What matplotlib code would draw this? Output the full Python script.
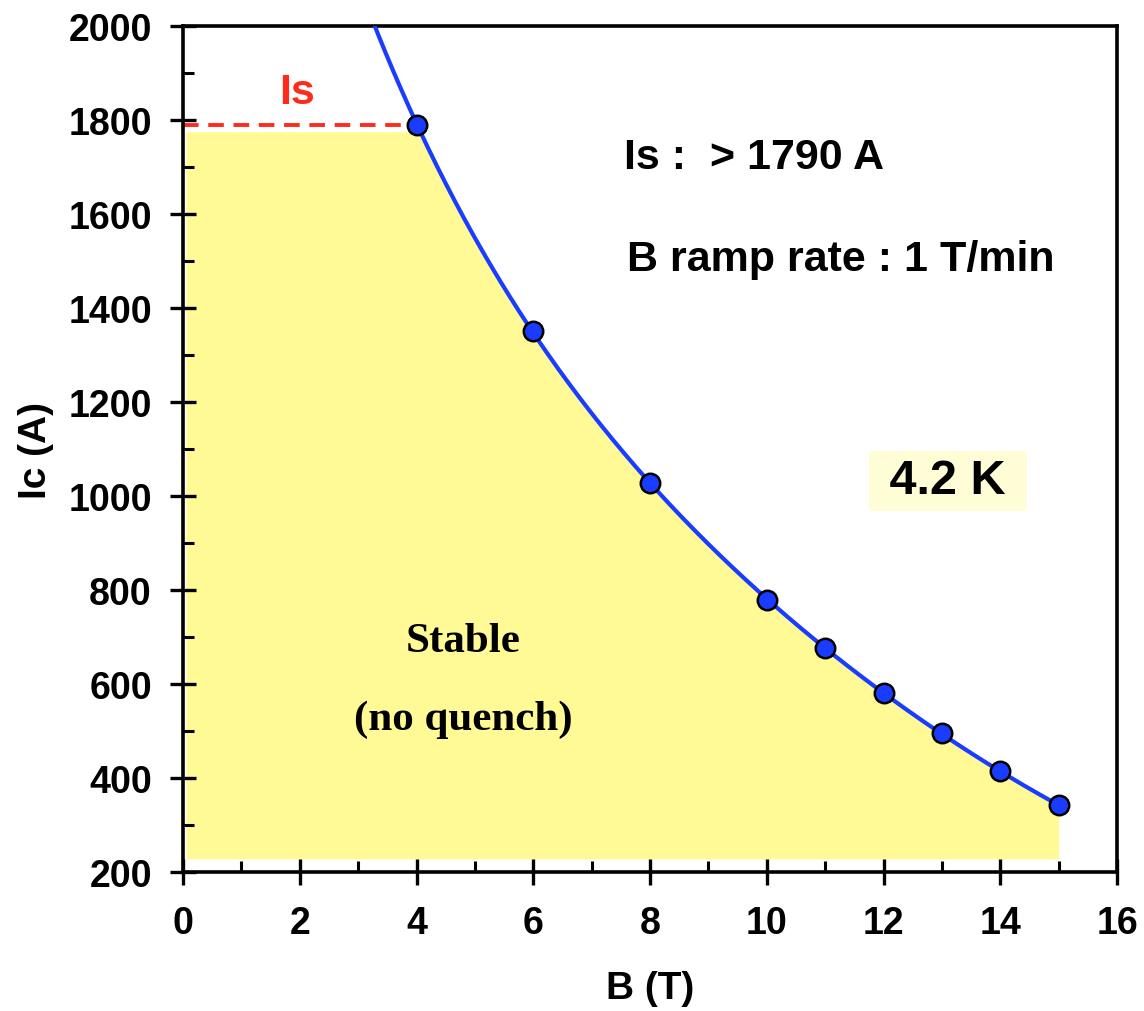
import numpy as np
import matplotlib
matplotlib.use('Agg')
from matplotlib import pyplot as plt
from matplotlib.ticker import MultipleLocator

# Dane pomiarowe: pole B (T) i prad krytyczny Ic (A)
b_field = [4, 6, 8, 10, 11, 12, 13, 14, 15]
ic_values = [1790, 1352, 1027, 779, 676, 581, 496, 414, 342]
is_value = 1790
fill_top = 1775
fill_bottom = 228

plt.rcParams['font.family'] = ['Liberation Sans', 'DejaVu Sans']
plt.rcParams['font.weight'] = 'bold'

fig = plt.figure(figsize=(11.44, 10.12), dpi=100)
ax = fig.add_axes([0.16, 0.1373, 0.8164, 0.836])

# Krzywa dopasowana (log Ic ~ wielomian 3 stopnia)
coef = np.polyfit(b_field, np.log(ic_values), 3)
bb = np.linspace(2.5, 15, 400)
fit = np.exp(np.polyval(coef, bb))

# Obszar stabilny
bf = np.linspace(0.05, 15, 400)
top = np.minimum(fill_top, np.exp(np.polyval(coef, bf)))
ax.fill_between(bf, fill_bottom, top, color='#FFFA96', lw=0, zorder=1)

ax.plot(bb, fit, color='#1A3CFF', lw=3, zorder=3)
ax.plot(b_field, ic_values, 'o', ms=14, mfc='#1A3CFF', mec='black', mew=1.8, zorder=4)
ax.plot([0, b_field[0]], [is_value, is_value], '--', color='#FF2A1A', lw=2.8,
        dashes=(4, 2.5), zorder=2)

ax.set_xlim(0, 16)
ax.set_ylim(200, 2000)
ax.xaxis.set_major_locator(MultipleLocator(2))
ax.xaxis.set_minor_locator(MultipleLocator(1))
ax.yaxis.set_major_locator(MultipleLocator(200))
ax.yaxis.set_minor_locator(MultipleLocator(100))
ax.tick_params(which='major', direction='inout', length=19, width=2.4,
               labelsize=27, pad=13)
ax.tick_params(axis='x', which='major', pad=14)
ax.tick_params(which='minor', direction='in', length=8, width=2.2)
for s in ax.spines.values():
    s.set_linewidth(2.6)

ax.set_xlabel('B (T)', fontsize=28, fontweight='bold', labelpad=21)
ax.set_ylabel('Ic (A)', fontsize=28, fontweight='bold', labelpad=10)

ax.text(1.95, 1860, 'Is', color='#FF2A1A', fontsize=31, fontweight='bold',
        ha='center', va='center')
ax.text(7.55, 1721, 'Is :  > 1790 A', fontsize=31, fontweight='bold', va='center')
ax.text(7.6, 1504, 'B ramp rate : 1 T/min', fontsize=31, fontweight='bold', va='center')
ax.text(13.1, 1032, ' 4.2 K ', fontsize=35, fontweight='bold', ha='center', va='center',
        bbox=dict(boxstyle='square,pad=0.15', fc='#FFFDD5', ec='none'))
ax.text(4.8, 691, 'Stable', fontsize=31, fontweight='bold', family='Liberation Serif',
        ha='center', va='center')
ax.text(4.8, 526, '(no quench)', fontsize=31, fontweight='bold', family='Liberation Serif',
        ha='center', va='center')

plt.savefig('out.png', dpi=100)
